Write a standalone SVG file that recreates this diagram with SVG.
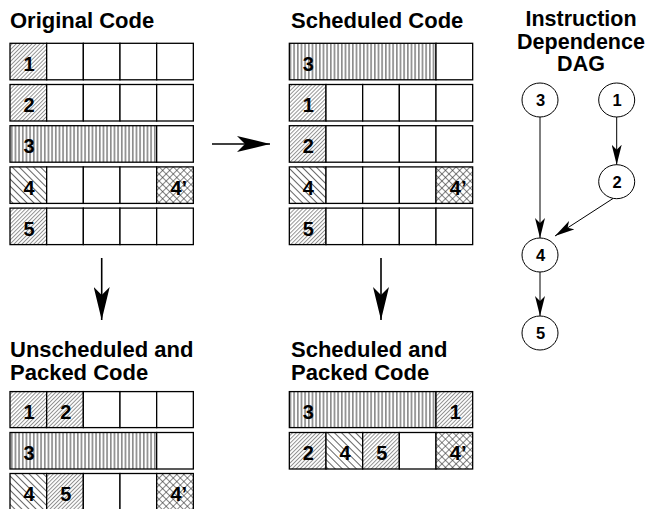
<svg xmlns="http://www.w3.org/2000/svg" width="649" height="509" viewBox="0 0 649 509">
  <style>
    .title { font-family: "Liberation Sans", Arial, sans-serif; font-weight: bold; font-size: 22px; fill: #000; }
    .dagt { font-size: 21.5px; text-anchor: middle; }
    .lbl { font-family: "Liberation Sans", Arial, sans-serif; font-weight: bold; font-size: 20px; fill: #000; }
    .nlbl { font-family: "Liberation Sans", Arial, sans-serif; font-weight: bold; font-size: 16.5px; fill: #000; text-anchor: middle; }
    .cell { stroke: #000; stroke-width: 1.3; fill: #fff; }
    .fine { fill: url(#fine); }
    .back { fill: url(#back); }
    .vert { fill: url(#vert); }
    .cross { fill: url(#cross); }
    .node { fill: #fff; stroke: #000; stroke-width: 1; }
    .edge { stroke: #000; stroke-width: 1; fill: none; marker-end: url(#headS); }
    .big { stroke: #000; stroke-width: 1.6; fill: none; marker-end: url(#headL); }
  </style>
  <defs>
    <!-- light forward-slash hatch -->
    <pattern id="fine" patternUnits="userSpaceOnUse" width="2.8" height="10" patternTransform="rotate(45)">
      <rect width="2.8" height="10" fill="#fff"/>
      <line x1="0.5" y1="0" x2="0.5" y2="10" stroke="#555" stroke-width="0.65"/>
    </pattern>
    <!-- back-slash hatch -->
    <pattern id="back" patternUnits="userSpaceOnUse" width="5" height="10" patternTransform="rotate(-45)">
      <rect width="5" height="10" fill="#fff"/>
      <line x1="0.5" y1="0" x2="0.5" y2="10" stroke="#222" stroke-width="0.7"/>
    </pattern>
    <!-- vertical stripes -->
    <pattern id="vert" patternUnits="userSpaceOnUse" width="3.667" height="10" x="10">
      <rect width="3.667" height="10" fill="#fff"/>
      <line x1="1.8" y1="0" x2="1.8" y2="10" stroke="#000" stroke-width="0.8"/>
    </pattern>
    <!-- diagonal cross hatch -->
    <pattern id="cross" patternUnits="userSpaceOnUse" width="5" height="5" patternTransform="rotate(45)">
      <rect width="5" height="5" fill="#fff"/>
      <line x1="0.5" y1="0" x2="0.5" y2="5" stroke="#333" stroke-width="0.6"/>
      <line x1="0" y1="0.5" x2="5" y2="0.5" stroke="#333" stroke-width="0.6"/>
    </pattern>
    <marker id="headL" markerUnits="userSpaceOnUse" viewBox="0 0 33 16" refX="33" refY="8" markerWidth="33" markerHeight="16" orient="auto">
      <path d="M0,0 L33,8 L0,16 L8,8 Z" fill="#000"/>
    </marker>
    <marker id="headS" markerUnits="userSpaceOnUse" viewBox="0 0 20 10" refX="20" refY="5" markerWidth="20" markerHeight="10" orient="auto">
      <path d="M0,0 L20,5 L0,10 L5,5 Z" fill="#000"/>
    </marker>
  </defs>

  <rect width="649" height="509" fill="#fff"/>

  <!-- titles -->
  <text class="title" x="10" y="28">Original Code</text>
  <text class="title" x="291" y="28">Scheduled Code</text>
  <text class="title dagt" x="581" y="26">Instruction</text>
  <text class="title dagt" x="581" y="48.5">Dependence</text>
  <text class="title dagt" x="581" y="71">DAG</text>
  <text class="title" x="10" y="357">Unscheduled and</text>
  <text class="title" x="10" y="380">Packed Code</text>
  <text class="title" x="291" y="357">Scheduled and</text>
  <text class="title" x="291" y="380">Packed Code</text>

  <!-- Original code -->
  <g id="orig">
    <g id="orig-r1">
      <rect class="cell fine" x="10" y="43.3" width="36.67" height="36.5"/>
      <rect class="cell" x="46.67" y="43.3" width="36.67" height="36.5"/>
      <rect class="cell" x="83.33" y="43.3" width="36.67" height="36.5"/>
      <rect class="cell" x="120" y="43.3" width="36.67" height="36.5"/>
      <rect class="cell" x="156.67" y="43.3" width="36.67" height="36.5"/>
      <text class="lbl" x="23.5" y="71">1</text>
    </g>
    <g id="orig-r2">
      <rect class="cell fine" x="10" y="84.5" width="36.67" height="36.5"/>
      <rect class="cell" x="46.67" y="84.5" width="36.67" height="36.5"/>
      <rect class="cell" x="83.33" y="84.5" width="36.67" height="36.5"/>
      <rect class="cell" x="120" y="84.5" width="36.67" height="36.5"/>
      <rect class="cell" x="156.67" y="84.5" width="36.67" height="36.5"/>
      <text class="lbl" x="23.5" y="112.2">2</text>
    </g>
    <g id="orig-r3">
      <rect class="cell vert" x="10" y="125.7" width="146.67" height="36.5"/>
      <rect class="cell" x="156.67" y="125.7" width="36.67" height="36.5"/>
      <text class="lbl" x="23.5" y="153.4">3</text>
    </g>
    <g id="orig-r4">
      <rect class="cell back" x="10" y="166.9" width="36.67" height="36.5"/>
      <rect class="cell" x="46.67" y="166.9" width="36.67" height="36.5"/>
      <rect class="cell" x="83.33" y="166.9" width="36.67" height="36.5"/>
      <rect class="cell" x="120" y="166.9" width="36.67" height="36.5"/>
      <rect class="cell cross" x="156.67" y="166.9" width="36.67" height="36.5"/>
      <text class="lbl" x="23.5" y="194.6">4</text>
      <text class="lbl" x="170.5" y="194.6">4’</text>
    </g>
    <g id="orig-r5">
      <rect class="cell fine" x="10" y="208.1" width="36.67" height="36.5"/>
      <rect class="cell" x="46.67" y="208.1" width="36.67" height="36.5"/>
      <rect class="cell" x="83.33" y="208.1" width="36.67" height="36.5"/>
      <rect class="cell" x="120" y="208.1" width="36.67" height="36.5"/>
      <rect class="cell" x="156.67" y="208.1" width="36.67" height="36.5"/>
      <text class="lbl" x="23.5" y="235.8">5</text>
    </g>
  </g>

  <!-- Scheduled code -->
  <g id="sched">
    <g id="sched-r1">
      <rect class="cell vert" x="289.33" y="43.3" width="146.67" height="36.5"/>
      <rect class="cell" x="436" y="43.3" width="36.67" height="36.5"/>
      <text class="lbl" x="302.8" y="71">3</text>
    </g>
    <g id="sched-r2">
      <rect class="cell fine" x="289.33" y="84.5" width="36.67" height="36.5"/>
      <rect class="cell" x="326" y="84.5" width="36.67" height="36.5"/>
      <rect class="cell" x="362.67" y="84.5" width="36.67" height="36.5"/>
      <rect class="cell" x="399.33" y="84.5" width="36.67" height="36.5"/>
      <rect class="cell" x="436" y="84.5" width="36.67" height="36.5"/>
      <text class="lbl" x="302.8" y="112.2">1</text>
    </g>
    <g id="sched-r3">
      <rect class="cell fine" x="289.33" y="125.7" width="36.67" height="36.5"/>
      <rect class="cell" x="326" y="125.7" width="36.67" height="36.5"/>
      <rect class="cell" x="362.67" y="125.7" width="36.67" height="36.5"/>
      <rect class="cell" x="399.33" y="125.7" width="36.67" height="36.5"/>
      <rect class="cell" x="436" y="125.7" width="36.67" height="36.5"/>
      <text class="lbl" x="302.8" y="153.4">2</text>
    </g>
    <g id="sched-r4">
      <rect class="cell back" x="289.33" y="166.9" width="36.67" height="36.5"/>
      <rect class="cell" x="326" y="166.9" width="36.67" height="36.5"/>
      <rect class="cell" x="362.67" y="166.9" width="36.67" height="36.5"/>
      <rect class="cell" x="399.33" y="166.9" width="36.67" height="36.5"/>
      <rect class="cell cross" x="436" y="166.9" width="36.67" height="36.5"/>
      <text class="lbl" x="302.8" y="194.6">4</text>
      <text class="lbl" x="449.8" y="194.6">4’</text>
    </g>
    <g id="sched-r5">
      <rect class="cell fine" x="289.33" y="208.1" width="36.67" height="36.5"/>
      <rect class="cell" x="326" y="208.1" width="36.67" height="36.5"/>
      <rect class="cell" x="362.67" y="208.1" width="36.67" height="36.5"/>
      <rect class="cell" x="399.33" y="208.1" width="36.67" height="36.5"/>
      <rect class="cell" x="436" y="208.1" width="36.67" height="36.5"/>
      <text class="lbl" x="302.8" y="235.8">5</text>
    </g>
  </g>

  <!-- Unscheduled and packed code -->
  <g id="upack">
    <g id="upack-r1">
      <rect class="cell fine" x="10" y="391.6" width="36.67" height="36"/>
      <rect class="cell fine" x="46.67" y="391.6" width="36.67" height="36"/>
      <rect class="cell" x="83.33" y="391.6" width="36.67" height="36"/>
      <rect class="cell" x="120" y="391.6" width="36.67" height="36"/>
      <rect class="cell" x="156.67" y="391.6" width="36.67" height="36"/>
      <text class="lbl" x="23.5" y="419.2">1</text>
      <text class="lbl" x="60.2" y="419.2">2</text>
    </g>
    <g id="upack-r2">
      <rect class="cell vert" x="10" y="432.5" width="146.67" height="36.5"/>
      <rect class="cell" x="156.67" y="432.5" width="36.67" height="36.5"/>
      <text class="lbl" x="23.5" y="460.2">3</text>
    </g>
    <g id="upack-r3">
      <rect class="cell back" x="10" y="473.5" width="36.67" height="40"/>
      <rect class="cell fine" x="46.67" y="473.5" width="36.67" height="40"/>
      <rect class="cell" x="83.33" y="473.5" width="36.67" height="40"/>
      <rect class="cell" x="120" y="473.5" width="36.67" height="40"/>
      <rect class="cell cross" x="156.67" y="473.5" width="36.67" height="40"/>
      <text class="lbl" x="23.5" y="501.2">4</text>
      <text class="lbl" x="60.2" y="501.2">5</text>
      <text class="lbl" x="170.5" y="501.2">4’</text>
    </g>
  </g>

  <!-- Scheduled and packed code -->
  <g id="spack">
    <g id="spack-r1">
      <rect class="cell vert" x="289.33" y="391.6" width="146.67" height="36"/>
      <rect class="cell fine" x="436" y="391.6" width="36.67" height="36"/>
      <text class="lbl" x="302.8" y="419.2">3</text>
      <text class="lbl" x="449.8" y="419.2">1</text>
    </g>
    <g id="spack-r2">
      <rect class="cell fine" x="289.33" y="432.5" width="36.67" height="36.5"/>
      <rect class="cell back" x="326" y="432.5" width="36.67" height="36.5"/>
      <rect class="cell fine" x="362.67" y="432.5" width="36.67" height="36.5"/>
      <rect class="cell" x="399.33" y="432.5" width="36.67" height="36.5"/>
      <rect class="cell cross" x="436" y="432.5" width="36.67" height="36.5"/>
      <text class="lbl" x="302.8" y="460.2">2</text>
      <text class="lbl" x="339.5" y="460.2">4</text>
      <text class="lbl" x="376.2" y="460.2">5</text>
      <text class="lbl" x="449.8" y="460.2">4’</text>
    </g>
  </g>

  <!-- DAG nodes -->
  <g id="n3"><ellipse class="node" cx="540" cy="100" rx="18" ry="17"/><text class="nlbl" x="540.5" y="106">3</text></g>
  <g id="n1"><ellipse class="node" cx="616.7" cy="100" rx="18" ry="17"/><text class="nlbl" x="617.2" y="106">1</text></g>
  <g id="n2"><ellipse class="node" cx="616.7" cy="181.7" rx="18" ry="17"/><text class="nlbl" x="617.2" y="187.7">2</text></g>
  <g id="n4"><ellipse class="node" cx="540" cy="255" rx="18" ry="17"/><text class="nlbl" x="540.5" y="261">4</text></g>
  <g id="n5"><ellipse class="node" cx="540" cy="333" rx="18" ry="17"/><text class="nlbl" x="540.5" y="339">5</text></g>

  <!-- connectors -->
  <g id="connectors">
    <line class="big" x1="212" y1="144" x2="270" y2="144"/>
    <line class="big" x1="101.7" y1="258" x2="101.7" y2="320"/>
    <line class="big" x1="381" y1="258" x2="381" y2="320"/>
    <line class="edge" x1="540" y1="117" x2="540" y2="238"/>
    <line class="edge" x1="616.7" y1="117" x2="616.7" y2="164.7"/>
    <line class="edge" x1="613" y1="198.5" x2="555" y2="236"/>
    <line class="edge" x1="540" y1="272" x2="540" y2="316"/>
  </g>
</svg>
